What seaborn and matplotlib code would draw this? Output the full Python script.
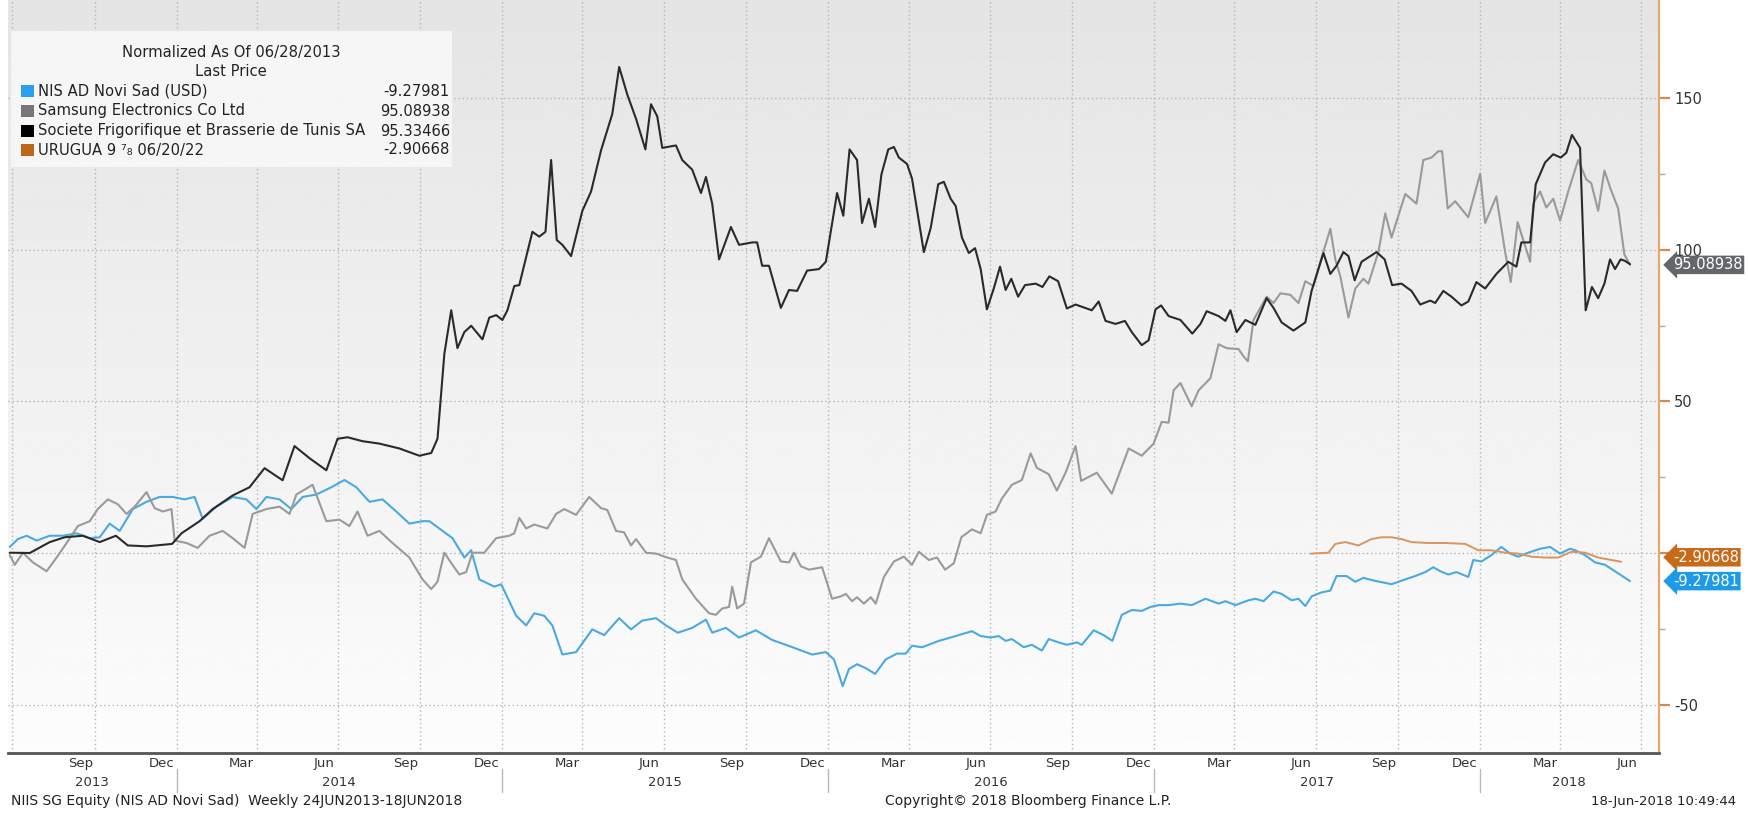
import numpy as np
import pandas as pd
import matplotlib
matplotlib.use("Agg")
import matplotlib.pyplot as plt
import matplotlib.dates as mdates
import matplotlib.transforms as mtransforms
import matplotlib.ticker as mticker
from matplotlib.patches import Rectangle
from matplotlib.lines import Line2D
import seaborn as sns

# ---------------- data (weeks since 2013-06-28, normalized % change) ----------------
start_date = "2013-06-28"

societe_weeks = [0, 3.2, 6.4, 8.8, 11.7, 14.4, 17, 18.9, 21.9, 26, 27.5, 30.4, 32.5, 35.7, 38.4, 40.8, 43.7,
                 45.6, 48, 50.7, 52.5, 54.1, 56.5, 59.2, 62.4, 65.6, 67.5, 68.5, 69.6, 70.7, 71.7, 72.8, 73.9,
                 75.7, 76.8, 77.9, 78.9, 79.7, 80.8, 81.6, 82.7, 83.7, 84.8, 85.8, 86.7, 87.6, 88.5, 89.9, 91.7,
                 93.1, 94.7, 96.5, 97.6, 98.9, 100.3, 101.8, 102.7, 103.7, 104.5, 106.7, 107.7, 109.3, 110.7,
                 111.5, 112.5, 113.6, 115.5, 116.8, 118.9, 119.7, 120.5, 121.6, 123.5, 124.8, 126.1, 127.7,
                 129.6, 130.7, 132.5, 133.5, 134.5, 135.7, 136.5, 137.6, 138.6, 139.6, 140.7, 141.6, 142.4,
                 143.7, 144.5, 146.4, 147.5, 148.7, 149.6, 150.7, 151.5, 152.5, 153.6, 154.6, 155.5, 156.5,
                 157.6, 158.6, 159.5, 160.4, 161.5, 162.6, 164.3, 165.4, 166.5, 167.9, 169.3, 170.7, 173.3,
                 174.4, 175.5, 177.1, 178.6, 179.7, 181.3, 182.4, 183.5, 184.4, 185.6, 187.5, 189.4, 190.7,
                 191.7, 193.6, 194.7, 195.5, 196.5, 197.9, 199.5, 201.3, 202.4, 203.7, 205.6, 207.5, 208.5,
                 210.4, 211.5, 212.5, 213.6, 214.4, 215.4, 216.5, 218.9, 220.2, 221.4, 222.9, 224.5, 225.9,
                 227.5, 228.3, 229.6, 230.9, 232.5, 233.6, 234.9, 236.3, 238.1, 240, 241.3, 242.1, 243.5,
                 244.4, 245.9, 247.2, 248.4, 249.3, 250.2, 251.5, 252.4, 253.4, 254.4, 255.4, 256.3, 257.1,
                 258, 258.7, 259.5]
societe_vals = [0.1, 0, 3.6, 5.2, 5.7, 3.6, 5.7, 2.5, 2.2, 3, 6.5, 10.5, 14.5, 19, 21.7, 28, 24,
                35.3, 31.3, 27.3, 37.7, 38.2, 36.9, 36.1, 34.5, 32.1, 33, 37.7, 65.7, 80.1, 67.6, 72.9, 75,
                70.5, 77.7, 78.5, 76.9, 80.1, 88.1, 88.4, 97.7, 106, 104.4, 106, 129.7, 103.3, 101.7, 98, 112.9,
                119.3, 132.9, 144.9, 160.4, 151.3, 143.3, 133.2, 148.1, 144.1, 133.7, 134.5, 129.7, 126.5, 118.8,
                124.1, 115.3, 96.9, 107.6, 101.7, 102.5, 102.5, 94.8, 94.8, 80.9, 86.8, 86.5, 93.2,
                93.7, 96.1, 118.8, 111.3, 133.2, 129.7, 108.9, 116.9, 107.6, 124.9, 133.2, 134, 130.5,
                128.4, 123.6, 99.3, 107.3, 121.7, 122.5, 116.9, 114.5, 104.1, 99, 100.6, 93.7, 80.4,
                87.3, 94.5, 86.8, 90.5, 84.6, 88.4, 88.9, 87.8, 91.3, 89.7, 80.7, 82, 80.1,
                83, 76.6, 75.6, 76.6, 72.9, 68.6, 70.2, 80.4, 81.7, 78.2, 76.9, 72.4, 75.6,
                79.8, 78.2, 76.6, 80.1, 72.9, 76.9, 75.3, 84.1, 80.9, 76.1, 73.4, 76.1, 86.5,
                99, 92.1, 94.8, 99.3, 98, 90, 96.1, 99.3, 96.9, 88.4, 88.9, 86.5, 82,
                83.3, 82.5, 86.5, 84.6, 81.7, 83, 89.4, 87.3, 92.1, 96.1, 94.5, 102.5, 102.5,
                121.7, 128.9, 131.6, 130.5, 132.1, 138, 133.7, 80.1, 87.8, 84.1, 88.9, 96.9, 93.7,
                96.9, 96.4, 95.33]

samsung_weeks = [0, 0.8, 2.1, 3.7, 5.9, 7.5, 9.1, 10.9, 12.8, 14.1, 15.7, 17.3, 18.7, 20, 21.9, 23.2, 24.5,
                 25.9, 26.4, 28.3, 30.1, 32, 34.1, 35.7, 37.6, 38.9, 41.1, 43.2, 44.8, 45.9, 48.5, 50.7, 52.8,
                 54.4, 55.7, 57.3, 59.2, 61.3, 64, 66.1, 67.5, 68.5, 69.6, 70.9, 72, 73.1, 74.1, 76, 77.9, 80,
                 80.8, 81.6, 82.7, 84, 86.1, 87.5, 88.8, 90.7, 92.8, 94.7, 95.7, 97.1, 98.4, 99.5, 100.3, 101.9,
                 103.5, 105.3, 106.7, 107.7, 109.9, 112, 113.1, 114.1, 115.2, 115.7, 116.5, 117.6, 118.7, 120.3,
                 121.6, 123.5, 124.8, 125.6, 126.7, 128, 130.1, 131.7, 133.1, 133.9, 134.9, 135.7, 136.8, 137.9,
                 138.7, 140, 141.6, 143.2, 144.5, 145.6, 147.2, 148.5, 149.8, 151.2, 152.4, 154.1, 155.5, 156.5,
                 157.9, 158.9, 160.5, 162.1, 163.5, 164.5, 166.4, 167.7, 169.1, 170.7, 171.6, 174.1, 176.5,
                 179.2, 181.3, 183.2, 184.5, 185.6, 186.4, 187.5, 189.3, 190.4, 192.3, 193.6, 194.9, 196.8,
                 197.6, 198.3, 199.2, 201.3, 202.4, 203.5, 205.1, 206.4, 207.5, 208.8, 209.9, 211.5, 212.3,
                 213.1, 214.4, 215.5, 216.8, 217.6, 219.2, 220.3, 221.3, 223.5, 225.3, 226.4, 227.7, 228.8,
                 229.4, 230.3, 231.5, 233.1, 233.6, 235.5, 236.3, 238.1, 239.5, 240.4, 241.5, 242.4, 243.5,
                 244, 245.1, 246.1, 247.2, 248.3, 249.6, 251.2, 252.5, 253.3, 254.4, 255.4, 256.4, 257.6,
                 258.6, 259.5]
samsung_vals = [-0.7, -3.9, 0.1, -3.1, -6, -1.5, 3.3, 8.9, 10.5, 14.5, 17.7, 16.1, 12.9, 15.3, 20.1, 14.8, 13.7,
                14.5, 4.1, 3.3, 1.7, 5.7, 7.3, 4.9, 1.7, 12.9, 14.5, 15.3, 12.9, 19.3, 22.5, 10.5, 11,
                8.9, 13.7, 5.7, 7.3, 3.3, -1.5, -8.7, -11.9, -9.5, 0.1, -3.9, -7.1, -6.3, 0.1, 0.1, 4.9, 5.7,
                6.5, 11.6, 8.1, 9.4, 8.1, 12.9, 14.5, 12.6, 18.5, 14.8, 14.2, 7.3, 6.8, 2.5, 4.6, 0.1,
                -0.2, -1.5, -2.3, -8.7, -15.1, -19.9, -20.4, -18.3, -17.8, -11.1, -18.3, -16.7, -3.1, -1.2,
                4.9, -2.8, -3.1, 0.1, -4.4, -5.5, -4.7, -15.1, -14.3, -13.5, -15.9, -14.6, -16.7, -14.6,
                -16.7, -7.9, -2.8, -1.2, -3.9, 0.4, -2.3, -1.5, -5.5, -3.4, 5.2, 7.8, 6.5, 12.6,
                13.7, 18, 22.5, 24.1, 32.9, 28.1, 26, 20.6, 26.5, 35.3, 23.8, 26.5, 19.6,
                34.5, 32.1, 36.1, 43.3, 43, 53.7, 56.1, 48.4, 53.7, 57.7, 68.9, 67.6, 67.3,
                64.9, 63.3, 76.9, 84.6, 82.5, 85.7, 85.2, 82.5, 89.7, 88.1, 96.1, 107, 96.9,
                91.3, 77.7, 87.3, 90.5, 88.9, 99.3, 112.1, 104.1, 118.5, 115.3, 129.7, 130.5, 132.6,
                132.6, 113.7, 116.1, 112.1, 110.8, 125.2, 108.9, 117.7, 99.3, 89.4, 109.2, 103.3, 96.1,
                115.3, 119.3, 114, 116.9, 109.7, 119.3, 129.7, 123.3, 122, 112.9, 126.2, 120.1, 113.7,
                98.5, 95.09]

nis_weeks = [0, 1.3, 2.7, 4.3, 6.4, 8.5, 10.7, 12.8, 14.4, 16, 17.6, 19.7, 21.9, 24, 26.1, 28, 29.6, 30.9,
             33.1, 35.7, 37.9, 39.5, 41.1, 43.2, 45.1, 46.9, 49.1, 51.5, 53.6, 55.5, 57.6, 59.7, 61.9, 64,
             66.1, 67.2, 69.3, 70.9, 72.8, 73.9, 75.2, 77.6, 78.7, 81.1, 82.7, 84, 85.6, 86.9, 88.5, 90.7,
             93.3, 95.2, 97.6, 99.5, 101.3, 103.5, 105.1, 107, 109.3, 111.5, 112.5, 114.7, 116.8, 119.5,
             122.1, 124.3, 126.4, 128.5, 130.7, 132, 133.4, 134.4, 135.7, 137.1, 138.6, 140.3, 142.1, 143.5,
             144.5, 146.1, 148.8, 151.5, 154.1, 155.5, 157.1, 158.4, 159.5, 160.5, 162.4, 163.7, 165.3,
             166.4, 168, 169.3, 170.9, 171.7, 173.6, 175.2, 176.6, 178.1, 179.7, 181.3, 182.7, 184, 185.6,
             187.5, 189.3, 191.5, 193.6, 194.7, 196.3, 198.4, 199.5, 200.8, 202.4, 203.7, 205.3, 206.4,
             207.5, 208.5, 210.1, 211.5, 212.5, 214.1, 215.5, 216.8, 218.7, 221.3, 223.5, 225.1, 226.7,
             228, 229.1, 230.4, 231.7, 233.6, 234.4, 235.7, 237.3, 238.9, 240.3, 241.6, 243.2, 245.1,
             246.7, 248.3, 249.9, 250.7, 252.3, 253.9, 255.5, 257.3, 259.5]
nis_vals = [2, 4.6, 5.7, 4.1, 5.7, 5.7, 6.5, 4.9, 5.2, 9.7, 7.3, 14.5, 16.9, 18.5, 18.5, 17.7, 18.5, 11.3,
            15.3, 18.5, 17.7, 14.5, 18.5, 17.7, 14.5, 18.5, 19.3, 21.7, 24.1, 21.7, 16.9, 17.7, 13.7, 9.7,
            10.5, 10.5, 7.3, 4.9, -1.5, 0.9, -8.7, -11.1, -10.3, -20.7, -23.9, -19.9, -20.7, -23.9, -33.5, -32.7,
            -25.2, -27.1, -21.5, -25.2, -22.3, -21.5, -23.9, -26.3, -24.7, -22, -26.3, -24.7, -27.9, -25.5,
            -28.7, -30.3, -31.9, -33.5, -32.7, -35.1, -43.9, -38.3, -36.7, -38, -39.9, -35.1, -33.2, -33.2,
            -30.6, -31.1, -29, -27.4, -25.8, -27.4, -27.9, -27.4, -29, -28.4, -31.1, -30.3, -32.2,
            -28.4, -29.5, -30.3, -29.5, -30.3, -25.5, -27.1, -29, -20.4, -18.8, -19.1, -17.8, -17.2, -17.2,
            -16.7, -17.2, -15.1, -16.7, -15.9, -17.2, -15.6, -15.1, -15.9, -12.7, -13.5, -15.6, -15.1,
            -17.5, -14.3, -13, -12.4, -7.6, -7.6, -9.5, -8.2, -9.2, -10.3, -8.7, -7.6, -6.3,
            -4.7, -6, -7.1, -6.3, -7.9, -2.3, -2.8, -0.7, 2, -0.2, -1.2, 0.1, 1.4,
            2, -0.2, 1.4, 0.9, -0.7, -3.1, -3.9, -6.3, -9.28]

urugua_weeks = [208.4, 211.2, 212.3, 213.9, 216, 218.1, 219.7, 221.3, 222.9, 224.5, 227.2, 229.9, 233.1,
                235.2, 237.3, 239.5, 241.6, 243.7, 245.9, 248, 250.1, 252.3, 254.4, 256.5, 258.1]
urugua_vals = [-0.2, 0.1, 3, 3.6, 2.5, 4.6, 5.2, 5.2, 4.6, 3.6, 3.3, 3.3, 3,
               0.9, 0.9, 0.1, -0.2, -1.2, -1.5, -1.5, 0.4, 0.1, -1.5, -2.3, -2.91]

series_names = ["NIS AD Novi Sad (USD)", "Samsung Electronics Co Ltd",
                "Societe Frigorifique et Brasserie de Tunis SA", "URUGUA 9 \u2077\u2088 06/20/22"]
legend_values = ["-9.27981", "95.08938", "95.33466", "-2.90668"]
tag_labels = ["95.08938", "-2.90668", "-9.27981"]
tag_values = [95.08938, -2.90668, -9.27981]
y_ticks = [-50, 0, 50, 100, 150]
y_tick_labels = ["-50", "", "50", "100", "150"]   # "0" is hidden behind the value tag
y_minor = [-25, 25, 75, 125]

# ---------------- styling ----------------
sns.set_style("white")
plt.rcParams["font.family"] = ["DejaVu Sans"]
plt.rcParams["axes.unicode_minus"] = False

W, H = 1749, 815
fig = plt.figure(figsize=(W / 100, H / 100), dpi=100)
fig.patch.set_facecolor("white")

L, R, B, T = 8, 1659, 753, 0
pos = [L / W, 1 - B / H, (R - L) / W, (B - T) / H]

bg = fig.add_axes(pos, zorder=0)
grad = np.linspace(0.895, 0.99, 256).reshape(-1, 1)
bg.imshow(grad, aspect="auto", cmap="gray", vmin=0, vmax=1, extent=[0, 1, 0, 1])
bg.axis("off")

ax = fig.add_axes(pos, zorder=1)
ax.patch.set_alpha(0)

def to_dates(weeks):
    return pd.Timestamp(start_date) + pd.to_timedelta(np.asarray(weeks) * 7, unit="D")

line_specs = [
    (nis_weeks, nis_vals, "#4ba9e2", 1.5),
    (samsung_weeks, samsung_vals, "#9a9a9a", 1.5),
    (urugua_weeks, urugua_vals, "#d9955e", 1.4),
    (societe_weeks, societe_vals, "#2a2a2a", 1.5),
]
for wks, vals, col, lw in line_specs:
    df = pd.DataFrame({"date": to_dates(wks), "value": vals})
    sns.lineplot(data=df, x="date", y="value", color=col, lw=lw, ax=ax,
                 estimator=None, sort=False, legend=False, zorder=3)

x0 = pd.Timestamp("2013-06-26")
x1 = pd.Timestamp("2018-07-21")
ax.set_xlim(x0, x1)
ax.set_ylim(-66.0, 182.5)
ax.set_xlabel("")
ax.set_ylabel("")

# grid
for d in pd.date_range("2013-07-01", "2018-07-01", freq="QS"):
    ax.axvline(d, color="#b5b5b5", lw=1.0, ls=(0, (1, 2)), zorder=1)
ax.set_yticks(y_ticks)
ax.set_yticklabels(y_tick_labels)
ax.set_yticks(y_minor, minor=True)
ax.yaxis.grid(True, which="major", color="#b5b5b5", lw=1.0, ls=(0, (1, 2)))
ax.set_axisbelow(True)

# right axis
ax.yaxis.tick_right()
ax.tick_params(axis="y", which="major", length=8, width=1.6, color="#d58a4c",
               labelcolor="#333333", labelsize=10.5, pad=3, direction="out")
ax.tick_params(axis="y", which="minor", length=4, width=1.0, color="#aaaaaa", direction="out")
for s in ["left", "top"]:
    ax.spines[s].set_visible(False)
ax.spines["right"].set_color("#e3a870")
ax.spines["right"].set_linewidth(1.6)
ax.spines["bottom"].set_color("#555555")
ax.spines["bottom"].set_linewidth(2.0)

# x axis
ax.xaxis.set_major_locator(mdates.MonthLocator(bymonth=[3, 6, 9, 12], bymonthday=15))
ax.xaxis.set_major_formatter(mdates.DateFormatter("%b"))
ax.xaxis.set_minor_locator(mdates.MonthLocator())
ax.tick_params(axis="x", which="major", length=0, pad=3, labelsize=9.5, labelcolor="#333333")
ax.tick_params(axis="x", which="minor", length=5, width=1.0, color="#555555", direction="inout")

blend = mtransforms.blended_transform_factory(ax.transData, ax.transAxes)
for yr in range(2013, 2019):
    a = max(pd.Timestamp(f"{yr}-01-01"), x0)
    b = min(pd.Timestamp(f"{yr + 1}-01-01"), x1)
    mid = a + (b - a) / 2
    ax.text(mid, -(783 - 753) / 753, str(yr), transform=blend, ha="center", va="center",
            fontsize=9.5, color="#333333", clip_on=False)
    if yr > 2013:
        ax.add_line(Line2D([a, a], [-(769 - 753) / 753, -(792 - 753) / 753], transform=blend,
                           color="#b8b8b8", lw=1.0, clip_on=False))

# value tags
blend_y = mtransforms.blended_transform_factory(ax.transAxes, ax.transData)
tag_colors = ["#63676a", "#c96a18", "#1e9be8"]
tag_offsets = [0, 1.5, 0]
for lab, val, col, off in zip(tag_labels, tag_values, tag_colors, tag_offsets):
    ax.text(1.0 + 14 / (R - L), val + off, lab, transform=blend_y, ha="left", va="center",
            color="white", fontsize=10.5, zorder=10, clip_on=False,
            bbox=dict(boxstyle="larrow,pad=0.12", fc=col, ec="none"))

# legend box
fig.patches.append(Rectangle((11 / W, 1 - 167 / H), 441 / W, 136 / H, transform=fig.transFigure,
                             fc="#f8f8f8", ec="none", alpha=0.92, zorder=5))
fig.text(231 / W, 1 - 52 / H, "Normalized As Of 06/28/2013", ha="center", va="center",
         fontsize=10.6, color="#222222", zorder=6)
fig.text(231 / W, 1 - 71 / H, "Last Price", ha="center", va="center",
         fontsize=10.6, color="#222222", zorder=6)
sq_colors = ["#29a0f0", "#777777", "#000000", "#c0651c"]
row_y = [91, 111, 131, 150]
for name, val, col, yy in zip(series_names, legend_values, sq_colors, row_y):
    fig.patches.append(Rectangle((21 / W, 1 - (yy + 6) / H), 13 / W, 12 / H, transform=fig.transFigure,
                                 fc=col, ec="none", zorder=6))
    fig.text(38 / W, 1 - yy / H, name, ha="left", va="center", fontsize=10.6, color="#222222", zorder=6)
    fig.text(450 / W, 1 - yy / H, val, ha="right", va="center", fontsize=10.6, color="#222222", zorder=6)

# footer
fy = 1 - 801 / H
fig.text(11 / W, fy, "NIIS SG Equity (NIS AD Novi Sad)  Weekly 24JUN2013-18JUN2018", ha="left",
         va="center", fontsize=10, color="#222222")
fig.text(1028 / W, fy, "Copyright\u00a9 2018 Bloomberg Finance L.P.", ha="center", va="center",
         fontsize=10, color="#222222")
fig.text(1736 / W, fy, "18-Jun-2018 10:49:44", ha="right", va="center", fontsize=9.5, color="#222222")

fig.savefig("out.png", dpi=100, facecolor="white")
